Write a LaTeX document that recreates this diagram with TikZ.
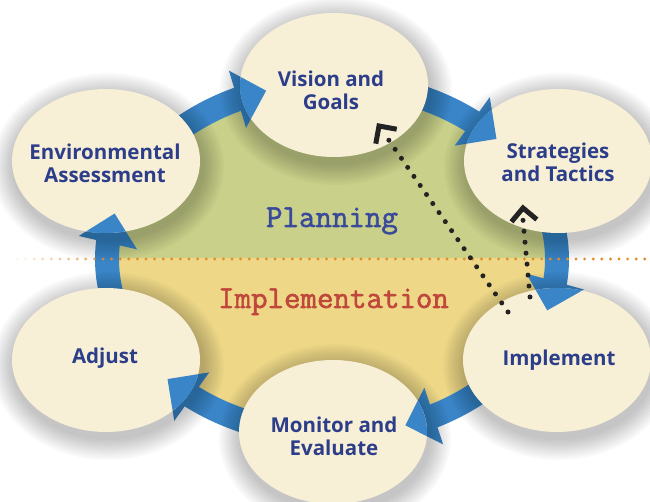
\documentclass[tikz,border=0pt]{standalone}
\usepackage{fontspec}
\setsansfont{Open Sans}
\newfontfamily\slabfont[FakeBold=1.8]{Latin Modern Mono}
\usetikzlibrary{shapes.geometric,arrows.meta,bending,calc}
\definecolor{cream}{RGB}{248,240,214}
\definecolor{navy}{RGB}{44,62,138}
\definecolor{ringblue}{RGB}{58,133,199}
\definecolor{leaf}{RGB}{201,208,138}
\definecolor{sand}{RGB}{238,216,136}
\definecolor{planblue}{RGB}{58,74,155}
\definecolor{implred}{RGB}{192,71,60}
\definecolor{dotorange}{RGB}{226,140,42}
\definecolor{ink}{RGB}{35,35,35}
\newcommand\myringarc[2]{([shift={(#1:225 and 176)}]ctr) arc[start angle=#1, end angle=#2, x radius=225, y radius=176]}
\begin{document}
\begin{tikzpicture}[x=1pt,y=1pt,
  bubble/.style={ellipse, fill=cream, minimum width=188pt, minimum height=144pt, inner sep=0pt},
  btext/.style={font=\sffamily\bfseries\fontsize{20.5}{23}\selectfont, text=navy, align=center},
  ringarrow/.style={draw=ringblue, line width=24pt, -{Triangle[width=58pt 0 0,length=30pt 0 0]}},
  dotline/.style={draw=ink, line width=5pt, line cap=round, dash pattern=on 0pt off 11pt},
  chev/.style={draw=ink, line width=5pt, line join=miter, line cap=butt},
  shade/.style={fill=black, opacity=0.024}]
\useasboundingbox (0,0) rectangle (650,502);
\fill[white] (0,0) rectangle (650,502);
\coordinate (ctr) at (332,243);
% inner fill
\begin{scope}
  \clip (0,243) rectangle (650,502);
  \fill[leaf] (ctr) ellipse (216 and 167);
\end{scope}
\begin{scope}
  \clip (0,0) rectangle (650,243);
  \fill[sand] (ctr) ellipse (216 and 167);
\end{scope}
% ring arrows (full)
\draw[ringarrow] \myringarc{140}{107};
\draw[ringarrow] \myringarc{75}{43};
\draw[ringarrow] \myringarc{15}{-17};
\draw[ringarrow] \myringarc{-40}{-71};
\draw[ringarrow] \myringarc{-105}{-137};
\draw[ringarrow] \myringarc{-165}{-195};
% shadows
\foreach \cx/\cy in {334/417, 558/341, 106/341, 106/142, 557/142, 333/70}{
  \foreach \i in {1,...,10}{
    \fill[shade] (\cx+2,\cy-6) ellipse ({94+2.2*\i} and {72+2.2*\i});
  }
}
% bubbles
\node[bubble] (vision) at (334,417) {};
\node[bubble] (strat) at (558,341) {};
\node[bubble] (env) at (106,341) {};
\node[bubble] (adjust) at (106,142) {};
\node[bubble] (impl) at (557,142) {};
\node[bubble] (monitor) at (333,70) {};
% arrow heads over target bubbles
\begin{scope}\clip (vision.center) ellipse (94 and 72); \draw[ringarrow] \myringarc{140}{107}; \end{scope}
\begin{scope}\clip (strat.center) ellipse (94 and 72); \draw[ringarrow] \myringarc{75}{43}; \end{scope}
\begin{scope}\clip (impl.center) ellipse (94 and 72); \draw[ringarrow] \myringarc{15}{-17}; \end{scope}
\begin{scope}\clip (monitor.center) ellipse (94 and 72); \draw[ringarrow] \myringarc{-40}{-71}; \end{scope}
\begin{scope}\clip (adjust.center) ellipse (94 and 72); \draw[ringarrow] \myringarc{-105}{-137}; \end{scope}
\begin{scope}\clip (env.center) ellipse (94 and 72); \draw[ringarrow] \myringarc{-165}{-195}; \end{scope}
% bubble texts
\node[btext] (visionT) at (331,412) {Vision and\\Goals};
\node[btext] (stratT) at (558,339.5) {Strategies\\and Tactics};
\node[btext] (envT) at (105,338.5) {Environmental\\Assessment};
\node[btext] (adjustT) at (105,144) {Adjust};
\node[btext] (implT) at (559,142) {Implement};
\node[btext] (monitorT) at (334,65.5) {Monitor and\\Evaluate};
% region labels
\node[anchor=base, font=\slabfont\fontsize{32}{34}\selectfont, text=planblue, inner sep=0pt] (plan) at (332,275) {Planning};
\node[anchor=base, font=\slabfont\fontsize{32}{34}\selectfont, text=implred, inner sep=0pt] (implem) at (333.5,194) {Implementation};
% orange divider
\foreach \k in {0,...,73}{
  \pgfmathsetmacro\xx{17+8.6*\k}
  \pgfmathsetmacro\op{min(1,0.06+\k/13)}
  \fill[dotorange, opacity=\op] (\xx,243) circle (1.6);
}
% dotted feedback arrows
\coordinate (s1) at (508,190);
\coordinate (e1) at (388,363);
\coordinate (v1) at (379,376);
\coordinate (s2) at (530,205);
\coordinate (e2) at (523,282);
\coordinate (v2) at (523,294);
\draw[dotline] (s1) -- (e1);
\draw[dotline] (s2) -- (e2);
\draw[chev] (v1) ++(259.7:18) -- (v1) -- ++(-10.3:18);
\draw[chev] (v2) ++(230.2:18) -- (v2) -- ++(-39.8:18);
\end{tikzpicture}
\end{document}
